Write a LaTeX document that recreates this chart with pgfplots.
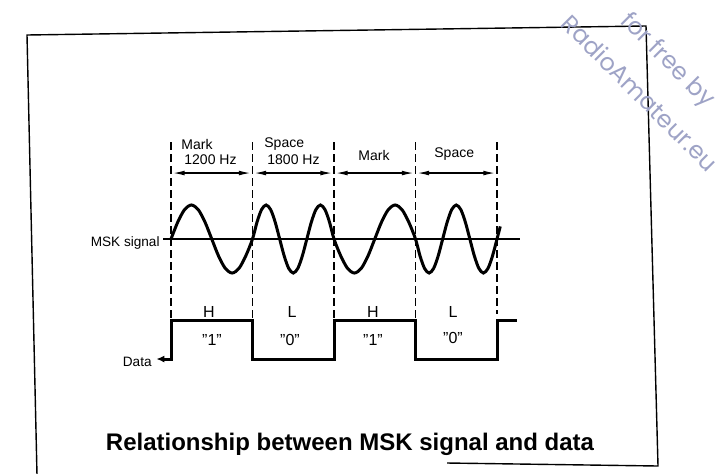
\documentclass[border=0pt]{standalone}
\usepackage{fontspec}
\setmainfont{Liberation Sans}
\newfontfamily\wmfont{Poppins}
\usepackage{pgfplots}
\pgfplotsset{compat=1.18}
\usetikzlibrary{arrows.meta}
\definecolor{wm}{RGB}{158,163,198}
\begin{document}
\begin{tikzpicture}
\useasboundingbox (0,0) rectangle (363pt,236.5pt);
\begin{axis}[at={(0,0)}, anchor=south west, scale only axis,
  width=363pt, height=236.5pt,
  xmin=-2.0982, xmax=6.8098, ymin=-6.8824, ymax=7.0294,
  axis lines=none, clip=false]
% MSK signal reference line
\addplot[black, line width=0.8pt] coordinates {(-0.098,0) (4.28,0)};
% bit boundaries
\addplot[black, line width=0.75pt, dash pattern=on 4pt off 2pt] coordinates {(0,2.85) (0,-2.41)};
\addplot[black, line width=0.75pt, dash pattern=on 4pt off 2pt] coordinates {(1,2.85) (1,-2.41)};
\addplot[black, line width=0.75pt, dash pattern=on 4pt off 2pt] coordinates {(2,2.85) (2,-2.41)};
\addplot[black, line width=0.75pt, dash pattern=on 4pt off 2pt] coordinates {(3,2.85) (3,-2.41)};
\addplot[black, line width=0.75pt, dash pattern=on 4pt off 2pt] coordinates {(4,2.85) (4,-2.2)};
% header arrows
\addplot[black, line width=0.7pt, {Latex[length=6pt,width=2.4pt]}-{Latex[length=6pt,width=2.4pt]}] coordinates {(0.02,1.94) (0.98,1.94)};
\addplot[black, line width=0.7pt, {Latex[length=6pt,width=2.4pt]}-{Latex[length=6pt,width=2.4pt]}] coordinates {(1.02,1.94) (1.98,1.94)};
\addplot[black, line width=0.7pt, {Latex[length=6pt,width=2.4pt]}-{Latex[length=6pt,width=2.4pt]}] coordinates {(2.02,1.94) (2.98,1.94)};
\addplot[black, line width=0.7pt, {Latex[length=6pt,width=2.4pt]}-{Latex[length=6pt,width=2.4pt]}] coordinates {(3.02,1.94) (3.98,1.94)};
% MSK signal
\addplot[black, line width=1.5pt, smooth] coordinates {
(0,0) (0.0833,0.5) (0.1667,0.866) (0.25,1) (0.3333,0.866) (0.4167,0.5) (0.5,0)
(0.5833,-0.5) (0.6667,-0.866) (0.75,-1) (0.8333,-0.866) (0.9167,-0.5) (1,0)
(1.0556,0.5) (1.1111,0.866) (1.1667,1) (1.2222,0.866) (1.2778,0.5) (1.3333,0)
(1.3889,-0.5) (1.4444,-0.866) (1.5,-1) (1.5556,-0.866) (1.6111,-0.5) (1.6667,0)
(1.7222,0.5) (1.7778,0.866) (1.8333,1) (1.8889,0.866) (1.9444,0.5) (2,0)
(2.0833,-0.5) (2.1667,-0.866) (2.25,-1) (2.3333,-0.866) (2.4167,-0.5) (2.5,0)
(2.5833,0.5) (2.6667,0.866) (2.75,1) (2.8333,0.866) (2.9167,0.5) (3,0)
(3.0556,-0.5) (3.1111,-0.866) (3.1667,-1) (3.2222,-0.866) (3.2778,-0.5) (3.3333,0)
(3.3889,0.5) (3.4444,0.866) (3.5,1) (3.5556,0.866) (3.6111,0.5) (3.6667,0)
(3.7222,-0.5) (3.7778,-0.866) (3.8333,-1) (3.8889,-0.866) (3.9444,-0.5) (4,0)
(4.04,0.37)};
% Data
\addplot[black, line width=1.5pt, const plot, {Latex[length=4pt,width=3.5pt]}-] coordinates {
(-0.18,-3.53) (0,-2.41) (1,-3.53) (2,-2.41) (3,-3.53) (4,-2.41) (4.25,-2.41)};
\end{axis}
\begin{scope}[x=0.5pt,y=-0.5pt,shift={(0,236.5pt)}]
% frame
\draw[line width=0.7pt] (37,475) -- (27,35) -- (646,26) -- (658,466) -- (447,463);
% header labels
\begin{scope}[every node/.style={inner sep=0pt, font=\fontsize{7}{8}\selectfont}]
\node[anchor=base west] at (181,149) {Mark};
\node[anchor=base west] at (184,164) {1200 Hz};
\node[anchor=base west] at (264,147) {Space};
\node[anchor=base west] at (267,164) {1800 Hz};
\node[anchor=base west] at (358,160) {Mark};
\node[anchor=base west] at (434,157) {Space};
\end{scope}
\node[anchor=base east, inner sep=0pt, font=\fontsize{6.8}{8}\selectfont] at (160,246) {MSK signal};
\node[anchor=base east, inner sep=0pt, font=\fontsize{6.8}{8}\selectfont] at (152,366) {Data};
% H / L labels
\begin{scope}[every node/.style={inner sep=0pt, anchor=base, font=\fontsize{8}{9}\selectfont}]
\node at (209,317) {H};
\node at (292,317) {L};
\node at (373,317) {H};
\node at (453,317) {L};
\node at (212,345) {"1"};
\node at (290,345) {"0"};
\node at (373,345) {"1"};
\node at (453,343) {"0"};
\end{scope}
% title
\node[anchor=base, inner sep=0pt, font=\bfseries\fontsize{12}{14}\selectfont] at (350,450) {Relationship between MSK signal and data};
% watermark
\node[rotate=-45, text=wm, inner sep=0pt, font=\wmfont\fontsize{12}{12}\selectfont] at (667,61) {for free by};
\node[rotate=-45, text=wm, inner sep=0pt, font=\wmfont\fontsize{12}{12}\selectfont] at (640,93) {RadioAmateur.eu};
\end{scope}
\end{tikzpicture}
\end{document}
